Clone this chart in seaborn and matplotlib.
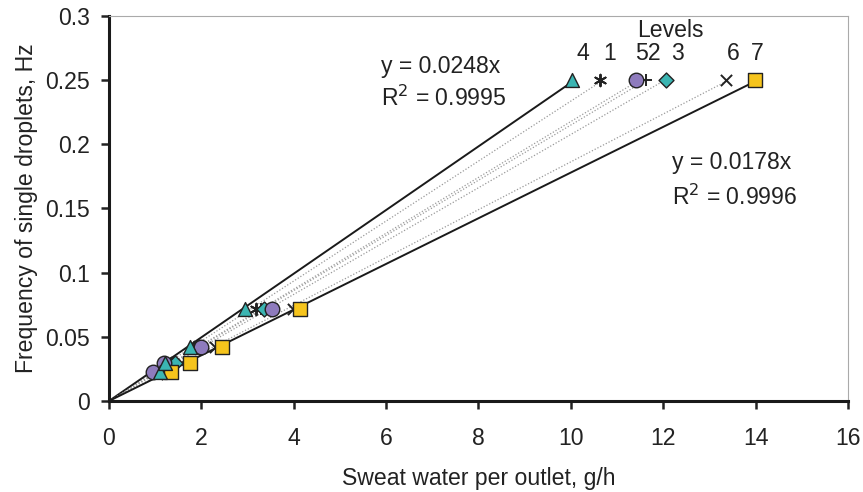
import numpy as np
import pandas as pd
import matplotlib
matplotlib.use("Agg")
import matplotlib.pyplot as plt
import seaborn as sns

# ---- data ----
freq = [0.0227, 0.0294, 0.0417, 0.0714, 0.25]
levels = ["1", "2", "3", "4", "5", "6", "7"]
water_1 = [1.05, 1.35, 1.85, 3.18, 10.63]
water_2 = [1.10, 1.40, 1.90, 3.30, 11.63]
water_3 = [1.15, 1.43, 1.95, 3.36, 12.06]
water_4 = [1.10, 1.22, 1.75, 2.94, 10.02]
water_5 = [0.95, 1.20, 2.00, 3.53, 11.41]
water_6 = [1.25, 1.55, 2.30, 3.98, 13.36]
water_7 = [1.35, 1.75, 2.45, 4.14, 13.99]
fit_slopes = {"4": 0.0248, "7": 0.0178}
fit_r2 = {"4": 0.9995, "7": 0.9996}
x_ticks = [0, 2, 4, 6, 8, 10, 12, 14, 16]
y_ticks = [0, 0.05, 0.1, 0.15, 0.2, 0.25, 0.3]
y_tick_labels = ["0", "0.05", "0.1", "0.15", "0.2", "0.25", "0.3"]

waters = {"1": water_1, "2": water_2, "3": water_3, "4": water_4,
          "5": water_5, "6": water_6, "7": water_7}

rows = []
for lv in levels:
    for x, y in zip(waters[lv], freq):
        rows.append({"level": lv, "water": x, "freq": y})
df = pd.DataFrame(rows)

sns.set_theme(style="white")
plt.rcParams["font.family"] = ["Liberation Sans", "DejaVu Sans"]

FS = 16.6

fig = plt.figure(figsize=(8.63, 4.92), dpi=100)
ax = fig.add_axes([0.1263, 0.185, 0.8563, 0.7825])

teal = "#3BB5B2"
purple = "#8E7BBD"
yellow = "#F6C41C"

styles = {
    "1": dict(marker=(6, 2, 0), color="#222222", s=70, linewidths=1.4),
    "2": dict(marker="+", color="#222222", s=80, linewidths=1.4),
    "3": dict(marker="D", color=teal, s=58, edgecolor="#222222", linewidth=1.0),
    "4": dict(marker="^", color=teal, s=100, edgecolor="#222222", linewidth=1.0),
    "5": dict(marker="o", color=purple, s=110, edgecolor="#222222", linewidth=1.0),
    "6": dict(marker="x", color="#222222", s=65, linewidths=1.4),
    "7": dict(marker="s", color=yellow, s=100, edgecolor="#222222", linewidth=1.0),
}

# trend lines through origin
for lv in levels:
    sub = df[df.level == lv]
    xs = sub.water.values
    ys = sub.freq.values
    if lv in fit_slopes:
        k = fit_slopes[lv]
        xe = ys.max() / k
        sns.lineplot(x=[0, xe], y=[0, k * xe], ax=ax, color="#1a1a1a", lw=1.4,
                     zorder=2, legend=False)
    else:
        k = (xs * ys).sum() / (xs * xs).sum()
        xe = xs.max()
        sns.lineplot(x=[0, xe], y=[0, k * xe], ax=ax, color="#9a9a9a", lw=0.9,
                     linestyle=(0, (1, 1.5)), zorder=2, legend=False)

order = ["2", "1", "6", "3", "5", "7", "4"]
for lv in order:
    sub = df[df.level == lv]
    sns.scatterplot(data=sub, x="water", y="freq", ax=ax, legend=False,
                    zorder=3, **styles[lv])

ax.set_xlim(0, 16)
ax.set_ylim(0, 0.3)
ax.set_xticks(x_ticks)
ax.set_xticklabels([str(t) for t in x_ticks])
ax.set_yticks(y_ticks)
ax.set_yticklabels(y_tick_labels)
ax.tick_params(axis="both", labelsize=FS, colors="#222222", length=6,
               width=1.8, direction="out")
ax.tick_params(axis="y", pad=8)
ax.tick_params(axis="x", pad=13)
ax.tick_params(axis="both", which="both", bottom=True, left=True)
ax.set_xlabel("Sweat water per outlet, g/h", fontsize=FS, color="#222222", labelpad=12)
ax.set_ylabel("Frequency of single droplets, Hz", fontsize=FS, color="#222222", labelpad=5)

for side in ["left", "bottom"]:
    ax.spines[side].set_color("#1a1a1a")
    ax.spines[side].set_linewidth(2.2)
for side in ["top", "right"]:
    ax.spines[side].set_color("#aaaaaa")
    ax.spines[side].set_linewidth(0.8)

# level labels
top_x = {lv: waters[lv][-1] for lv in levels}
label_pos = {"4": top_x["4"] + 0.25, "1": top_x["1"] + 0.2, "3": top_x["3"] + 0.25,
             "6": top_x["6"] + 0.15, "7": top_x["7"] + 0.05}
for lv, xp in label_pos.items():
    ax.text(xp, 0.262, lv, fontsize=FS, ha="center", va="bottom", color="#222222")
ax.text((top_x["5"] + top_x["2"]) / 2 + 0.15, 0.262, "52", fontsize=FS,
        ha="center", va="bottom", color="#222222")
ax.text(12.15, 0.289, "Levels", fontsize=FS, ha="center", va="center", color="#222222")

# equations
ax.text(5.9, 0.2605, "y = %.4fx" % fit_slopes["4"], fontsize=FS, ha="left",
        va="center", color="#222222")
ax.text(5.9, 0.2355, "R$^{2}$ = %.4f" % fit_r2["4"], fontsize=FS, ha="left",
        va="center", color="#222222")
ax.text(12.2, 0.1855, "y = %.4fx" % fit_slopes["7"], fontsize=FS, ha="left",
        va="center", color="#222222")
ax.text(12.2, 0.1590, "R$^{2}$ = %.4f" % fit_r2["7"], fontsize=FS, ha="left",
        va="center", color="#222222")

fig.savefig("out.png", dpi=100)
